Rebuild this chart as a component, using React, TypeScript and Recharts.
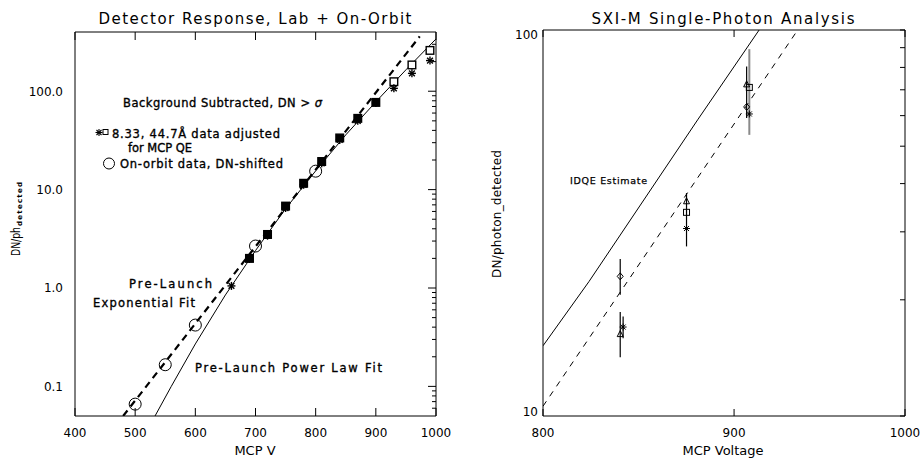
import React from 'react';
import { ScatterChart, Scatter, XAxis, YAxis, ErrorBar } from 'recharts';

const FONT = '"DejaVu Sans", Verdana, sans-serif';

// ---------------- Left panel: Detector Response ----------------
const leftXTicks = [400, 500, 600, 700, 800, 900, 1000];
const leftYMajor = [0.1, 1, 10, 100];
const leftYMinor = [0.06, 0.07, 0.08, 0.09, 0.2, 0.3, 0.4, 0.5, 0.6, 0.7, 0.8, 0.9, 2, 3, 4, 5, 6, 7, 8, 9, 20, 30, 40, 50, 60, 70, 80, 90, 200, 300];

// 8.33 A data (asterisks)
const starV = [660, 690, 720, 750, 780, 810, 840, 870, 900, 930, 960, 990];
const starDN = [1.05, 1.97, 3.4, 6.5, 11.2, 18.5, 32, 50, 76, 107, 152, 205];
// 44.7 A data (squares)
const squareV = [690, 720, 750, 780, 810, 840, 870, 900, 930, 960, 990];
const squareDN = [2.0, 3.5, 6.8, 11.6, 19.3, 33.5, 53, 77, 125, 185, 260];
// on-orbit data (circles)
const orbitV = [500, 550, 600, 700, 800];
const orbitDN = [0.066, 0.166, 0.42, 2.67, 15.4];
// pre-launch exponential fit (dashed)
const expFitV = [480, 973];
const expFitDN = [0.05, 361];
// pre-launch power law fit (solid)
const powFitV = [533, 560, 600, 650, 700, 750, 800, 850, 900, 950, 1000];
const powFitDN = [0.05, 0.1, 0.27, 0.85, 2.4, 6.4, 15.5, 36, 78, 165, 340];

// ---------------- Right panel: SXI-M Single-Photon ----------------
const rightXTicks = [800, 900, 1000];
const rightYMajor = [10, 100];
const rightYMinor = [20, 30, 40, 50, 60, 70, 80, 90];

const idqeV = [800, 823, 880, 914];
const idqeDN = [15.2, 22.3, 58.5, 100];
const fitV = [800, 936];
const fitDN = [10.6, 100];

const triV = [839, 874, 907];
const triDN = [16.3, 36, 72.3];
const triLo = [14.2, 36, 59.2];
const triHi = [18.6, 36, 80.4];

const sqV = [874, 908.5];
const sqDN = [33.7, 71];
const sqLo = [33.7, 53.5];
const sqHi = [33.7, 89.2];

const diaV = [839, 907];
const diaDN = [23.0, 63.2];
const diaLo = [20.6, 63.2];
const diaHi = [25.5, 63.2];

const astV = [840.5, 874, 908.5];
const astDN = [17.0, 30.6, 60.6];
const astLo = [15.9, 27.5, 60.6];
const astHi = [18.1, 37.8, 60.6];

// ---------------- helpers ----------------
const zip = (v: number[], dn: number[]) => v.map((x, i) => ({ v: x, dn: dn[i] }));
const zipErr = (v: number[], dn: number[], lo: number[], hi: number[]) =>
  v.map((x, i) => ({ v: x, dn: dn[i], err: [dn[i] - lo[i], hi[i] - dn[i]] }));

const Empty = () => <g />;

const asteriskShape = (r: number, w: number) => (p: any) => {
  const { cx, cy } = p;
  const d = r * 0.72;
  return (
    <g stroke="#000" strokeWidth={w}>
      <line x1={cx - r} y1={cy} x2={cx + r} y2={cy} />
      <line x1={cx} y1={cy - r} x2={cx} y2={cy + r} />
      <line x1={cx - d} y1={cy - d} x2={cx + d} y2={cy + d} />
      <line x1={cx - d} y1={cy + d} x2={cx + d} y2={cy - d} />
    </g>
  );
};

const leftSquareShape = (p: any) => {
  const { cx, cy, payload } = p;
  const h = 3.8;
  const filled = payload && payload.dn < 100;
  return <rect x={cx - h} y={cy - h} width={2 * h} height={2 * h} fill={filled ? '#000' : '#fff'} stroke="#000" strokeWidth={1.4} />;
};

const circleShape = (p: any) => <circle cx={p.cx} cy={p.cy} r={6} fill="none" stroke="#000" strokeWidth={1} />;

const smallSquare = (p: any) => <rect x={p.cx - 3} y={p.cy - 3} width={6} height={6} fill="none" stroke="#000" strokeWidth={1} />;
const smallTri = (p: any) => (
  <polygon points={`${p.cx},${p.cy - 3.5} ${p.cx + 3},${p.cy + 2.5} ${p.cx - 3},${p.cy + 2.5}`} fill="none" stroke="#000" strokeWidth={1} />
);
const smallDia = (p: any) => (
  <polygon points={`${p.cx},${p.cy - 3.5} ${p.cx + 3},${p.cy} ${p.cx},${p.cy + 3.5} ${p.cx - 3},${p.cy}`} fill="none" stroke="#000" strokeWidth={1} />
);

const textStyle = { fontFamily: FONT, fill: '#000' } as const;

const bottomTick = (len: number) => (p: any) => (
  <g>
    <line x1={p.x} y1={p.y} x2={p.x} y2={p.y - len} stroke="#000" strokeWidth={1} />
    <text x={p.x} y={p.y + 21} textAnchor="middle" fontSize={12} {...textStyle}>
      {p.payload.value}
    </text>
  </g>
);
const topTick = (len: number) => (p: any) => (
  <line x1={p.x} y1={p.y} x2={p.x} y2={p.y + len} stroke="#000" strokeWidth={1} />
);
const rightTick = (major: number[], majLen: number, minLen: number) => (p: any) => {
  const len = major.includes(p.payload.value) ? majLen : minLen;
  return <line x1={p.x} y1={p.y} x2={p.x - len} y2={p.y} stroke="#000" strokeWidth={1} />;
};
const leftLabelTick = (p: any) => (
  <text x={p.x - 12} y={p.y + 4.3} textAnchor="end" fontSize={12} {...textStyle}>
    {Number(p.payload.value).toFixed(1)}
  </text>
);
const rightLabelTick = (p: any) => {
  const v = p.payload.value;
  const dy = v === 100 ? 8.5 : 0;
  return (
    <text x={p.x - 5} y={p.y + dy} textAnchor="end" fontSize={12} {...textStyle}>
      {v}
    </text>
  );
};

const axisLine = { stroke: '#000', strokeWidth: 1 };

function LeftChart() {
  return (
    <ScatterChart width={460} height={459} margin={{ top: 31, right: 23, bottom: 13, left: 15 }}>
      <XAxis xAxisId="b" type="number" dataKey="v" domain={[400, 1000]} ticks={leftXTicks} allowDataOverflow
        orientation="bottom" height={30} tickSize={0} tickMargin={0} tickLine={false} axisLine={axisLine}
        tick={bottomTick(8)} interval={0} />
      <XAxis xAxisId="t" type="number" dataKey="v" domain={[400, 1000]} ticks={leftXTicks} allowDataOverflow
        orientation="top" height={1} tickSize={0} tickMargin={0} tickLine={false} axisLine={axisLine}
        tick={topTick(8)} interval={0} />
      <YAxis yAxisId="l" type="number" scale="log" dataKey="dn" domain={[0.05, 400]} ticks={leftYMajor} allowDataOverflow
        width={60} tickSize={0} tickMargin={0} tickLine={false} axisLine={axisLine} tick={leftLabelTick} interval={0} />
      <YAxis yAxisId="r" orientation="right" type="number" scale="log" dataKey="dn" domain={[0.05, 400]}
        ticks={[...leftYMajor, ...leftYMinor]} allowDataOverflow width={1} tickSize={0} tickMargin={0} tickLine={false}
        axisLine={axisLine} tick={rightTick(leftYMajor, 8, 4)} interval={0} />

      <Scatter xAxisId="b" yAxisId="l" data={zip(powFitV, powFitDN)} isAnimationActive={false} shape={Empty}
        line={{ stroke: '#000', strokeWidth: 1 }} stroke="#000" fill="none" lineType="joint" />
      <Scatter xAxisId="b" yAxisId="l" data={zip(expFitV, expFitDN)} isAnimationActive={false} shape={Empty}
        line={{ stroke: '#000', strokeWidth: 2.2, strokeDasharray: '7 5' }} stroke="#000" fill="none" lineType="joint" />
      <Scatter xAxisId="b" yAxisId="l" data={zip(squareV, squareDN)} isAnimationActive={false} shape={leftSquareShape} />
      <Scatter xAxisId="b" yAxisId="l" data={zip(starV, starDN)} isAnimationActive={false} shape={asteriskShape(4, 1.4)} />
      <Scatter xAxisId="b" yAxisId="l" data={zip(orbitV, orbitDN)} isAnimationActive={false} shape={circleShape} />
    </ScatterChart>
  );
}

function RightChart() {
  return (
    <ScatterChart width={463} height={459} margin={{ top: 29, right: 17, bottom: 13, left: 43 }}>
      <XAxis xAxisId="b" type="number" scale="log" dataKey="v" domain={[800, 1000]} ticks={rightXTicks} allowDataOverflow
        orientation="bottom" height={30} tickSize={0} tickMargin={0} tickLine={false} axisLine={axisLine}
        tick={bottomTick(7)} interval={0} />
      <XAxis xAxisId="t" type="number" scale="log" dataKey="v" domain={[800, 1000]} ticks={rightXTicks} allowDataOverflow
        orientation="top" height={1} tickSize={0} tickMargin={0} tickLine={false} axisLine={axisLine}
        tick={topTick(7)} interval={0} />
      <YAxis yAxisId="l" type="number" scale="log" dataKey="dn" domain={[10, 100]} ticks={rightYMajor} allowDataOverflow
        width={40} tickSize={0} tickMargin={0} tickLine={false} axisLine={axisLine} tick={rightLabelTick} interval={0} />
      <YAxis yAxisId="r" orientation="right" type="number" scale="log" dataKey="dn" domain={[10, 100]}
        ticks={[...rightYMajor, ...rightYMinor]} allowDataOverflow width={1} tickSize={0} tickMargin={0} tickLine={false}
        axisLine={axisLine} tick={rightTick(rightYMajor, 5, 5)} interval={0} />

      <Scatter xAxisId="b" yAxisId="l" data={zip(idqeV, idqeDN)} isAnimationActive={false} shape={Empty}
        line={{ stroke: '#000', strokeWidth: 1 }} stroke="#000" fill="none" lineType="joint" />
      <Scatter xAxisId="b" yAxisId="l" data={zip(fitV, fitDN)} isAnimationActive={false} shape={Empty}
        line={{ stroke: '#000', strokeWidth: 1, strokeDasharray: '6 6' }} stroke="#000" fill="none" lineType="joint" />

      <Scatter xAxisId="b" yAxisId="l" data={zipErr(sqV, sqDN, sqLo, sqHi)} isAnimationActive={false} shape={smallSquare}>
        <ErrorBar dataKey="err" direction="y" width={0} stroke="#8a8a8a" strokeWidth={2} />
      </Scatter>
      <Scatter xAxisId="b" yAxisId="l" data={zipErr(triV, triDN, triLo, triHi)} isAnimationActive={false} shape={smallTri}>
        <ErrorBar dataKey="err" direction="y" width={0} stroke="#000" strokeWidth={1.2} />
      </Scatter>
      <Scatter xAxisId="b" yAxisId="l" data={zipErr(diaV, diaDN, diaLo, diaHi)} isAnimationActive={false} shape={smallDia}>
        <ErrorBar dataKey="err" direction="y" width={0} stroke="#000" strokeWidth={1.2} />
      </Scatter>
      <Scatter xAxisId="b" yAxisId="l" data={zipErr(astV, astDN, astLo, astHi)} isAnimationActive={false} shape={asteriskShape(3.5, 1)}>
        <ErrorBar dataKey="err" direction="y" width={0} stroke="#000" strokeWidth={1.2} />
      </Scatter>
    </ScatterChart>
  );
}

function Overlay() {
  const t = { fontFamily: FONT, fill: '#000' };
  const a = { fontFamily: FONT, fill: '#000', stroke: '#000', strokeWidth: 0.35 };
  return (
    <svg width={923} height={459} style={{ position: 'absolute', left: 0, top: 0, pointerEvents: 'none' }}>
      {/* left panel texts */}
      <text x={255} y={24} textAnchor="middle" fontSize={15} textLength={313} lengthAdjust="spacing" style={t}>
        Detector Response, Lab + On-Orbit
      </text>
      <text x={255} y={455} textAnchor="middle" fontSize={13} style={t}>MCP V</text>
      <text transform="translate(20,256) rotate(-90)" fontSize={12.5} textLength={29} lengthAdjust="spacingAndGlyphs" style={t}>DN/ph</text>
      <text transform="translate(21.5,226) rotate(-90)" fontSize={7} textLength={44} lengthAdjust="spacing" fontWeight="bold" style={t}>detected</text>

      <text x={123} y={107} fontSize={11.5} textLength={199} lengthAdjust="spacing" style={a}>
        Background Subtracted, DN &gt; <tspan fontStyle="italic">σ</tspan>
      </text>
      <g stroke="#000" strokeWidth={1.1}>
        <line x1={95.5} y1={132.5} x2={102.5} y2={132.5} />
        <line x1={99} y1={129} x2={99} y2={136} />
        <line x1={96.5} y1={130} x2={101.5} y2={135} />
        <line x1={96.5} y1={135} x2={101.5} y2={130} />
      </g>
      <rect x={103} y={129.5} width={5} height={5} fill="none" stroke="#000" strokeWidth={1} />
      <text x={112} y={137.5} fontSize={11.5} textLength={168} lengthAdjust="spacing" style={a}>8.33, 44.7Å data adjusted</text>
      <text x={128} y={152} fontSize={11.5} textLength={64} lengthAdjust="spacing" style={a}>for MCP QE</text>
      <circle cx={109} cy={163.5} r={5.5} fill="none" stroke="#000" strokeWidth={1} />
      <text x={120} y={167.7} fontSize={11.5} textLength={163} lengthAdjust="spacing" style={a}>On-orbit data, DN-shifted</text>
      <text x={129} y={288.3} fontSize={11.5} textLength={83} lengthAdjust="spacing" style={a}>Pre-Launch</text>
      <text x={93} y={307.3} fontSize={11.5} textLength={102} lengthAdjust="spacing" style={a}>Exponential Fit</text>
      <text x={195} y={372.3} fontSize={11.5} textLength={187} lengthAdjust="spacing" style={a}>Pre-Launch Power Law Fit</text>

      {/* right panel texts */}
      <text x={723} y={23.5} textAnchor="middle" fontSize={15} textLength={263} lengthAdjust="spacing" style={t}>
        SXI-M Single-Photon Analysis
      </text>
      <text x={723} y={455} textAnchor="middle" fontSize={13} style={t}>MCP Voltage</text>
      <text transform="translate(501,278) rotate(-90)" fontSize={12} textLength={128} lengthAdjust="spacing" style={t}>DN/photon_detected</text>
      <text x={570} y={184.3} fontSize={9.5} textLength={77} lengthAdjust="spacing" style={{ ...t, stroke: '#000', strokeWidth: 0.25 }}>IDQE Estimate</text>
    </svg>
  );
}

export default function App() {
  return (
    <div style={{ position: 'absolute', left: 0, top: 0, width: 923, height: 459, background: '#fff', overflow: 'hidden' }}>
      <div style={{ position: 'absolute', left: 0, top: 0 }}>
        <LeftChart />
      </div>
      <div style={{ position: 'absolute', left: 460, top: 0 }}>
        <RightChart />
      </div>
      <Overlay />
    </div>
  );
}
